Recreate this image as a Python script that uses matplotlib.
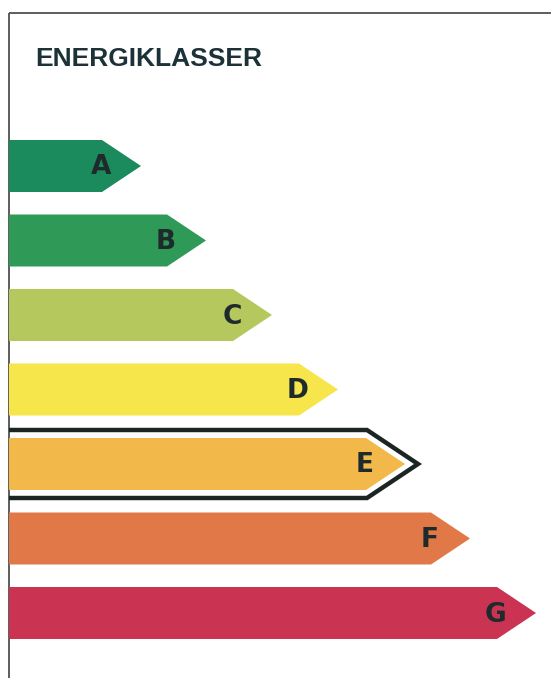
import matplotlib
matplotlib.use("Agg")
import matplotlib.pyplot as plt
from matplotlib.patches import Polygon

# Data
classes = ["A", "B", "C", "D", "E", "F", "G"]
lengths = [132, 197, 263, 329, 396, 461, 527]   # bar length incl. arrow tip
colors = ["#1b8a5c", "#2f9a57", "#b5c85e", "#f7e54c", "#f2b84a", "#e07848", "#cb3352"]
selected = "E"
title = "ENERGIKLASSER"

W, H = 551, 678
fig = plt.figure(figsize=(W / 100, H / 100), dpi=100)
ax = fig.add_axes([0, 0, 1, 1])
ax.set_xlim(0, W)
ax.set_ylim(H, 0)
ax.axis("off")

x0 = 9
frame_col = "#505050"
ax.plot([x0, x0], [13, H], color=frame_col, lw=1.3, solid_capstyle="butt")
ax.plot([x0, W], [13, 13], color=frame_col, lw=1.3, solid_capstyle="butt")

ax.text(35, 59, title, fontsize=19, fontweight="bold", family="Liberation Sans",
        color="#1d3238", va="center", ha="left")

y_first = 166
step = 74.5
half_h = 26
tip = 39

for i, (c, L, col) in enumerate(zip(classes, lengths, colors)):
    yc = y_first + i * step
    xt = x0 + L
    pts = [(x0, yc - half_h), (xt - tip, yc - half_h), (xt, yc),
           (xt - tip, yc + half_h), (x0, yc + half_h)]
    ax.add_patch(Polygon(pts, closed=True, facecolor=col, edgecolor="none", zorder=2))
    if c == selected:
        oh = 34
        otip = 51
        oxt = xt + 13
        opts = [(x0, yc - oh), (oxt - otip, yc - oh), (oxt, yc),
                (oxt - otip, yc + oh), (x0, yc + oh)]
        ax.add_patch(Polygon(opts, closed=False, facecolor="none", edgecolor="#1c2424",
                             lw=3.2, joinstyle="miter", zorder=3))
    ax.text(xt - 40, yc + 1.5, c, fontsize=19, fontweight="bold", family="DejaVu Sans",
            color="#1e2a2c", ha="center", va="center", zorder=4)

fig.savefig("out.png", dpi=100)
